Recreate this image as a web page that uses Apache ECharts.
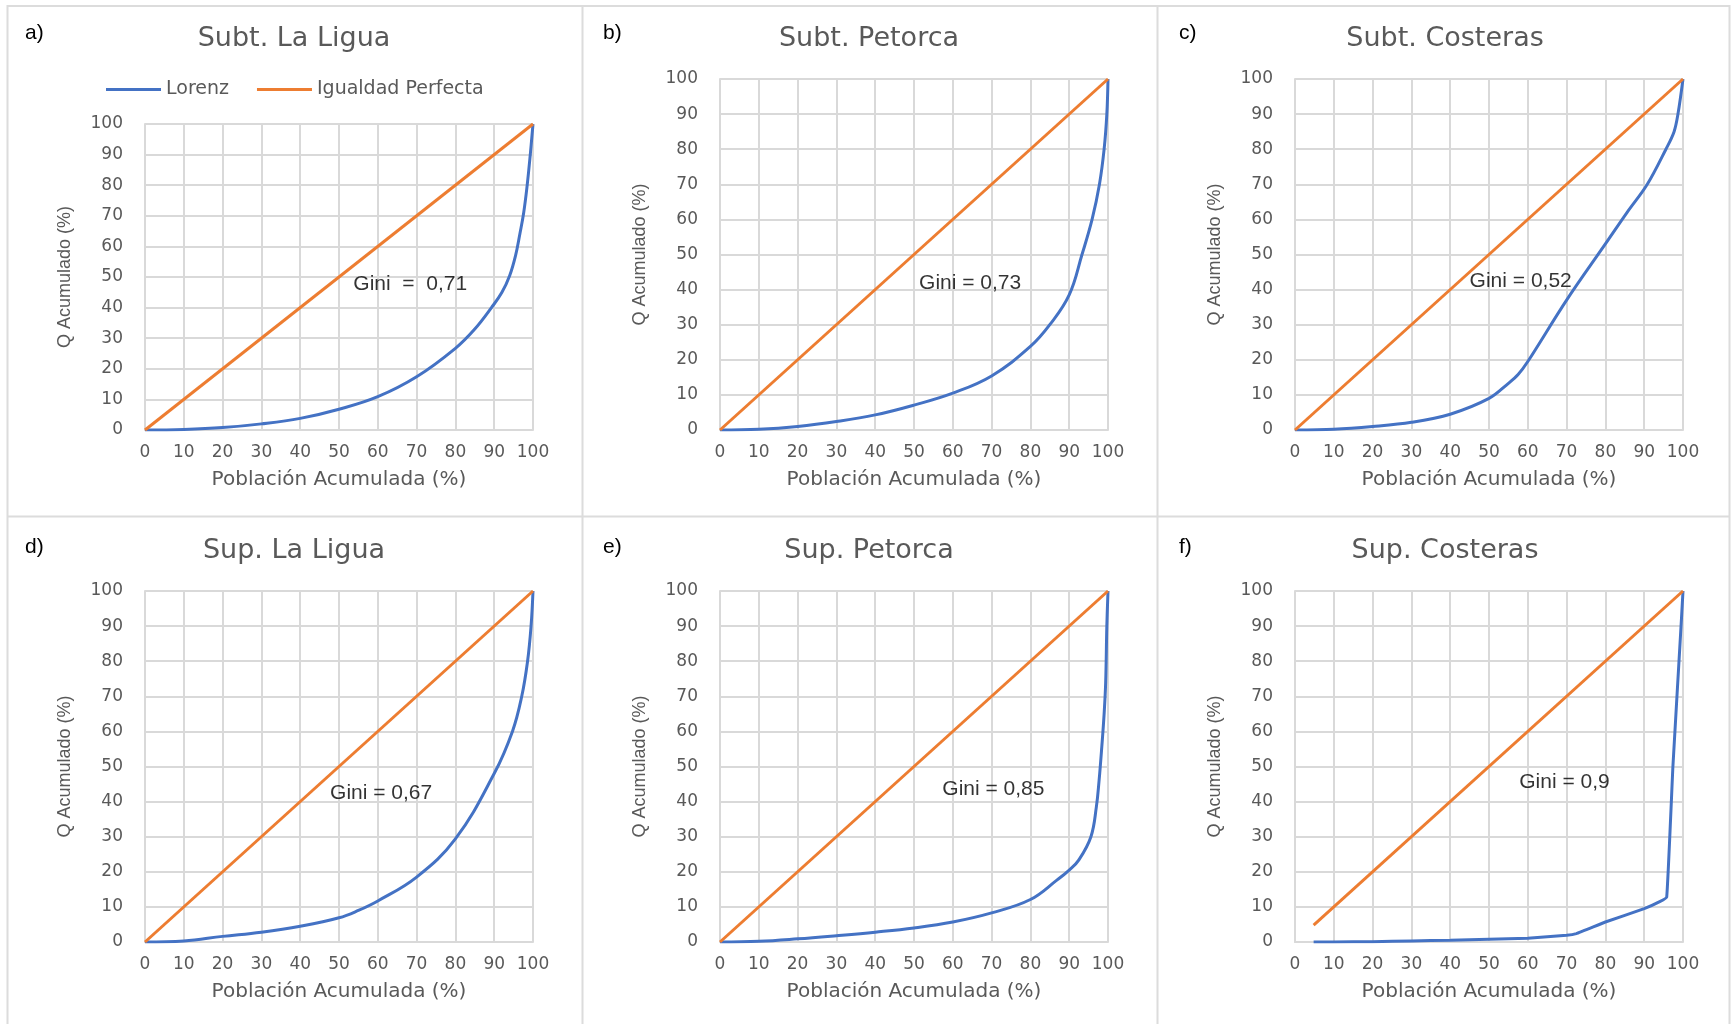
<!DOCTYPE html>
<html>
<head>
<meta charset="utf-8">
<title>Curvas de Lorenz</title>
<script src="https://cdn.jsdelivr.net/npm/echarts@6/dist/echarts.min.js"></script>
<style>
  html, body { margin: 0; padding: 0; background: #fff; }
  #chart { width: 1735px; height: 1024px; }
</style>
</head>
<body>
<div id="chart"></div>
<script>
// panel text
const panelLetters = ['a)', 'b)', 'c)', 'd)', 'e)', 'f)'];
const panelTitles = ['Subt. La Ligua', 'Subt. Petorca', 'Subt. Costeras',
                     'Sup. La Ligua', 'Sup. Petorca', 'Sup. Costeras'];
const giniLabels = ['Gini  =  0,71', 'Gini = 0,73', 'Gini = 0,52',
                    'Gini = 0,67', 'Gini = 0,85', 'Gini = 0,9'];
// where each Gini note starts (data units: % poblacion, % Q)
const giniAtX = [53.7, 51.3, 45.0, 47.7, 57.3, 57.8];
const giniAtY = [47.7, 41.7, 42.3, 42.5, 43.6, 45.5];

// Lorenz curves
const subtLaLiguaX = [0, 10, 20, 30, 40, 50, 60, 70, 80, 85, 89.3, 92, 94, 95.5, 96.6, 97.6, 98.5, 99.3, 100];
const subtLaLiguaY = [0, 0.2, 0.8, 2, 3.8, 6.8, 10.9, 17.4, 26.7, 33, 40, 45, 50.5, 57, 64, 71, 80, 90, 100];

const subtPetorcaX = [0, 10, 20, 30, 40, 50, 60, 70, 80, 85, 90, 93.3, 95.9, 97.8, 99, 99.7, 100];
const subtPetorcaY = [0, 0.2, 1, 2.4, 4.3, 7.1, 10.5, 15.4, 23.8, 30, 38.5, 50, 60, 70, 80, 90, 100];

const subtCosterasX = [0, 10, 20, 30, 40, 50, 55, 57.5, 60, 70, 80, 85.6, 90.8, 95.6, 97.7, 98.7, 100];
const subtCosterasY = [0, 0.2, 1, 2.2, 4.5, 9, 13.3, 15.8, 19.5, 37, 53, 62, 70, 80, 85, 90, 100];

const supLaLiguaX = [0, 10, 20, 30, 40, 50, 55, 60, 70, 80, 90, 94.7, 97.1, 98.6, 99.5, 100];
const supLaLiguaY = [0, 0.3, 1.6, 2.8, 4.5, 6.9, 9, 11.7, 18.5, 29.4, 48, 60, 70, 80, 90, 100];

const supPetorcaX = [0, 10, 20, 30, 40, 50, 60, 70, 80, 86.9, 90, 92.5, 95.6, 97, 97.7, 98.4, 99, 99.4, 99.7, 100];
const supPetorcaY = [0, 0.2, 0.9, 1.8, 2.8, 4, 5.7, 8.3, 12.1, 17.7, 20.5, 23.4, 30, 38.5, 46, 55.6, 65, 74, 90, 100];

const supCosterasX = [4.8, 10, 20, 30, 40, 50, 60, 70, 72.5, 80, 90, 94, 95.8, 97.4, 99.6, 100];
const supCosterasY = [0, 0, 0.1, 0.3, 0.5, 0.8, 1.1, 1.9, 2.4, 5.7, 9.5, 11.5, 12.8, 50, 92, 100];

// perfect equality line
const equalityX = [0, 100];
const equalityY = [0, 100];
const supCosterasEqualityX = [4.8, 100];
const supCosterasEqualityY = [4.8, 100];

const lorenzX = [subtLaLiguaX, subtPetorcaX, subtCosterasX, supLaLiguaX, supPetorcaX, supCosterasX];
const lorenzY = [subtLaLiguaY, subtPetorcaY, subtCosterasY, supLaLiguaY, supPetorcaY, supCosterasY];
const eqX = [equalityX, equalityX, equalityX, equalityX, equalityX, supCosterasEqualityX];
const eqY = [equalityY, equalityY, equalityY, equalityY, equalityY, supCosterasEqualityY];

function pairs(xs, ys) {
    let out = [];
    for (let i = 0; i < xs.length; i++) out.push([xs[i], ys[i]]);
    return out;
}

const BLUE = '#4472C4';
const ORANGE = '#ED7D31';
const GREY_TEXT = '#595959';
const GRID_LINE = '#d9d9d9';

// layout of the 2x3 panels
const colLeft = [145, 720, 1295];
const colMid = [294, 869, 1445];
const letterX = [25, 603, 1179];
const smoothBy = [0.4, 0.4, 0.35, 0.4, 0.4, 0.1];

const chart = echarts.init(document.getElementById('chart'));

let grids = [], xAxes = [], yAxes = [], series = [], graphics = [];

for (let i = 0; i < 6; i++) {
    const col = i % 3;
    const row = Math.floor(i / 3);
    let top, height;
    if (row === 0) {
        top = i === 0 ? 124 : 79;
        height = 430 - top;
    } else {
        top = 591;
        height = 351;
    }
    grids.push({ left: colLeft[col], top: top, width: 388, height: height, containLabel: false });

    xAxes.push({
        type: 'value', gridIndex: i, min: 0, max: 100, interval: 10,
        name: 'Población Acumulada (%)', nameLocation: 'middle', nameGap: 40,
        nameTextStyle: { color: GREY_TEXT, fontSize: 20, fontFamily: 'DejaVu Sans' },
        axisLine: { show: true, lineStyle: { color: GRID_LINE, width: 2 } },
        axisTick: { show: false },
        axisLabel: { color: GREY_TEXT, fontSize: 17, fontFamily: 'DejaVu Sans', margin: 14 },
        splitLine: { show: true, lineStyle: { color: GRID_LINE, width: 2 } }
    });
    yAxes.push({
        type: 'value', gridIndex: i, min: 0, max: 100, interval: 10,
        name: 'Q Acumulado (%)', nameLocation: 'middle', nameGap: 71,
        nameTextStyle: { color: GREY_TEXT, fontSize: 18, fontFamily: 'Liberation Sans' },
        axisLine: { show: true, lineStyle: { color: GRID_LINE, width: 2 } },
        axisTick: { show: false },
        axisLabel: { color: GREY_TEXT, fontSize: 17, fontFamily: 'DejaVu Sans', margin: 22 },
        splitLine: { show: true, lineStyle: { color: GRID_LINE, width: 2 } }
    });

    series.push({
        name: 'Lorenz', type: 'line', xAxisIndex: i, yAxisIndex: i,
        data: pairs(lorenzX[i], lorenzY[i]),
        symbol: 'none', smooth: smoothBy[i],
        lineStyle: { color: BLUE, width: 3 }, itemStyle: { color: BLUE }
    });
    series.push({
        name: 'Igualdad Perfecta', type: 'line', xAxisIndex: i, yAxisIndex: i,
        data: pairs(eqX[i], eqY[i]),
        symbol: 'none',
        lineStyle: { color: ORANGE, width: 3 }, itemStyle: { color: ORANGE }
    });
    series.push({
        name: 'gini' + i, type: 'scatter', xAxisIndex: i, yAxisIndex: i,
        data: [[giniAtX[i], giniAtY[i]]],
        symbolSize: 0, silent: true,
        label: {
            show: true, position: 'right', distance: 0,
            formatter: giniLabels[i],
            color: '#000', fontSize: 21, fontFamily: 'Liberation Sans'
        }
    });

    graphics.push({
        type: 'text', x: colMid[col], y: row === 0 ? 39 : 551, silent: true,
        style: { text: panelTitles[i], font: '27px "DejaVu Sans"', fill: GREY_TEXT,
                 align: 'center', verticalAlign: 'middle' }
    });
    graphics.push({
        type: 'text', x: letterX[col], y: row === 0 ? 33 : 547, silent: true,
        style: { text: panelLetters[i], font: '21px "Liberation Sans"', fill: '#000',
                 align: 'left', verticalAlign: 'middle' }
    });
}

// panel frame
const frame = { fill: 'none', stroke: '#dcdcdc', lineWidth: 2 };
graphics.push({ type: 'rect', silent: true, shape: { x: 7.5, y: 6, width: 1722, height: 1030 }, style: frame });
graphics.push({ type: 'line', silent: true, shape: { x1: 582.5, y1: 6, x2: 582.5, y2: 1024 }, style: frame });
graphics.push({ type: 'line', silent: true, shape: { x1: 1157.5, y1: 6, x2: 1157.5, y2: 1024 }, style: frame });
graphics.push({ type: 'line', silent: true, shape: { x1: 7.5, y1: 516.5, x2: 1730, y2: 516.5 }, style: frame });

chart.setOption({
    animation: false,
    backgroundColor: '#fff',
    legend: {
        data: ['Lorenz', 'Igualdad Perfecta'],
        left: 101, top: 75, itemWidth: 55, itemHeight: 3, itemGap: 28,
        icon: 'rect',
        textStyle: { color: GREY_TEXT, fontSize: 19, fontFamily: 'DejaVu Sans' }
    },
    grid: grids,
    xAxis: xAxes,
    yAxis: yAxes,
    series: series,
    graphic: graphics
});
</script>
</body>
</html>
